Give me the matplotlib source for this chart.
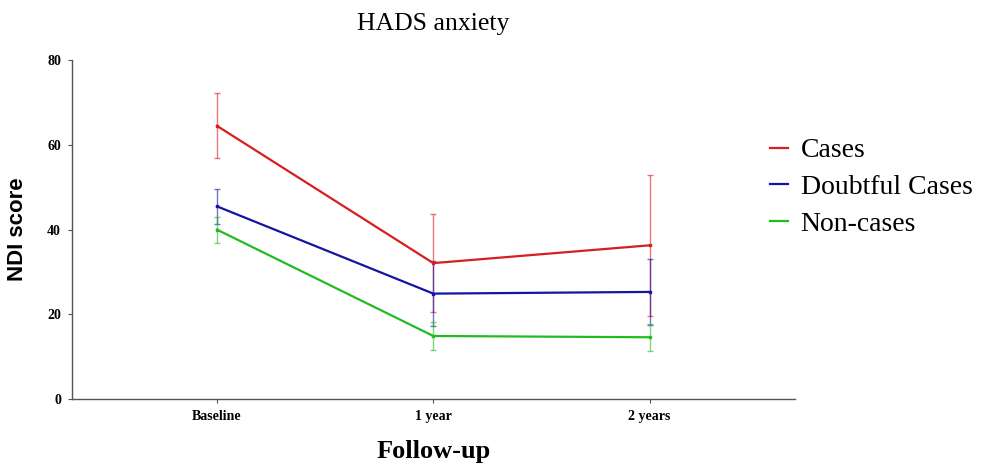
import matplotlib

matplotlib.use("Agg")

import matplotlib.pyplot as plt
import numpy as np
from matplotlib.lines import Line2D

timepoints = ["Baseline", "1 year", "2 years"]
groups = ["Cases", "Doubtful Cases", "Non-cases"]
means = {
    "Cases": [64.5, 32.1, 36.3],
    "Doubtful Cases": [45.5, 24.9, 25.3],
    "Non-cases": [40.0, 14.9, 14.6],
}
errors = {
    "Cases": [7.7, 11.5, 16.7],
    "Doubtful Cases": [4.1, 7.7, 7.7],
    "Non-cases": [3.1, 3.3, 3.2],
}
colors = {"Cases": "#d81e1e", "Doubtful Cases": "#1414a0", "Non-cases": "#22bb22"}
yticks = [0, 20, 40, 60, 80]

serif = "Liberation Serif"
axis_gray = "#555555"

fig = plt.figure(figsize=(9.87, 4.63), dpi=100)
ax = fig.add_axes([0.073, 0.138, 0.732, 0.732])

x = np.arange(len(timepoints))
for g in groups:
    ax.errorbar(x, means[g], yerr=errors[g], fmt="none", ecolor=colors[g],
                elinewidth=1.0, capsize=2.5, capthick=1.0, alpha=0.6, zorder=2)
for g in groups:
    ax.plot(x, means[g], color=colors[g], lw=1.6, marker="s", ms=2,
            zorder=3)

ax.set_xlim(-0.67, 2.67)
ax.set_ylim(0, 80)
ax.set_xticks(x)
ax.set_xticklabels(timepoints, fontfamily=serif, fontweight="bold", fontsize=10)
ax.set_yticks(yticks)
ax.set_yticklabels([str(v) for v in yticks], fontfamily=serif,
                   fontweight="bold", fontsize=10)
ax.tick_params(axis="both", direction="out", length=3, width=0.8,
               color=axis_gray, pad=5)

for side in ("top", "right"):
    ax.spines[side].set_visible(False)
for side in ("left", "bottom"):
    ax.spines[side].set_color(axis_gray)
    ax.spines[side].set_linewidth(1.0)

ax.set_ylabel("NDI score", fontfamily="Liberation Sans", fontweight="bold",
              fontsize=16)
ax.yaxis.set_label_coords(-0.061, 0.5)
ax.set_xlabel("Follow-up", fontfamily=serif, fontweight="bold", fontsize=19)
ax.xaxis.set_label_coords(0.5, -0.121)
ax.text(0.5, 1.108, "HADS anxiety", transform=ax.transAxes, ha="center",
        va="center", fontfamily=serif, fontsize=18.5)

handles = [Line2D([], [], color=colors[g], lw=1.6) for g in groups]
fig.legend(handles, groups, loc="upper left",
           bbox_to_anchor=(745 / 987, 1 - 113 / 463),
           frameon=False, prop={"family": serif, "size": 20},
           handlelength=0.65, handletextpad=0.45, labelspacing=0.4)

fig.savefig("out.png", dpi=100)
